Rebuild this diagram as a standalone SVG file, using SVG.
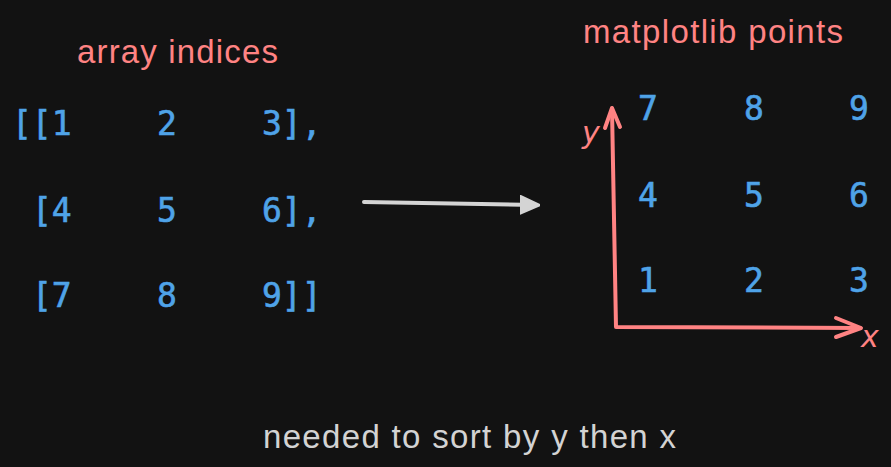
<svg xmlns="http://www.w3.org/2000/svg" width="891" height="467" viewBox="0 0 891 467">
<defs>
<style>
.title{font-family:"Liberation Sans",Arial,sans-serif;font-size:33px;fill:#ff8383}
.mono{font-family:"DejaVu Sans Mono","Liberation Mono",monospace;font-size:33px;fill:#4fa3e8;stroke:#4fa3e8;stroke-width:0.6}
.caption{font-family:"Liberation Sans",Arial,sans-serif;font-size:33px;fill:#d3d3d3}
.axis{fill:none;stroke:#ff8383;stroke-width:4;stroke-linecap:round;stroke-linejoin:round}
.lbl{font-family:"DejaVu Sans",sans-serif;font-style:italic;font-size:30px;fill:#ff8383}
</style>
<marker id="ah" viewBox="0 0 10 10" refX="8" refY="5" markerWidth="5" markerHeight="5" orient="auto" markerUnits="strokeWidth">
<path d="M0,0.5 L10,5 L0,9.5 Z" fill="#d4d4d4" stroke="#d4d4d4" stroke-width="1" stroke-linejoin="round"/>
</marker>
</defs>
<rect width="891" height="467" fill="#121212"/>
<g id="array">
<text class="title" x="77" y="63" textLength="201">array indices</text>
<text class="mono" x="12" y="135">[[1</text>
<text class="mono" x="157" y="135">2</text>
<text class="mono" x="262" y="135">3],</text>
<text class="mono" x="32" y="222">[4</text>
<text class="mono" x="157" y="222">5</text>
<text class="mono" x="262" y="222">6],</text>
<text class="mono" x="32" y="307">[7</text>
<text class="mono" x="157" y="307">8</text>
<text class="mono" x="262" y="307">9]]</text>
</g>
<g id="points">
<text class="title" x="583" y="43" textLength="260">matplotlib points</text>
<text class="mono" x="638" y="120">7</text>
<text class="mono" x="744" y="120">8</text>
<text class="mono" x="849" y="120">9</text>
<text class="mono" x="638" y="207">4</text>
<text class="mono" x="744" y="207">5</text>
<text class="mono" x="849" y="207">6</text>
<text class="mono" x="638" y="292">1</text>
<text class="mono" x="744" y="292">2</text>
<text class="mono" x="849" y="292">3</text>
</g>
<g id="axes">
<path class="axis" d="M612,109 L616,327 L860,328"/>
<path class="axis" d="M605,128 L612,108 L620,127"/>
<path class="axis" d="M836,318 L861,328 L836,337"/>
<text class="lbl" x="582" y="143">y</text>
<text class="lbl" x="861" y="347">x</text>
</g>
<g id="connectors">
<path d="M364,202 L536,205" fill="none" stroke="#d4d4d4" stroke-width="4" stroke-linecap="round" marker-end="url(#ah)"/>
</g>
<g id="caption">
<text class="caption" x="263" y="448" textLength="413">needed to sort by y then x</text>
</g>
</svg>
